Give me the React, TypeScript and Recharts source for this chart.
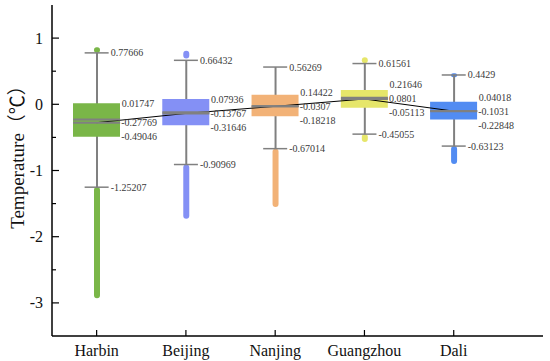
import React from 'react';
import {
  ComposedChart,
  Bar,
  Line,
  Scatter,
  XAxis,
  YAxis,
  Cell,
} from 'recharts';

// box plot summary per city
const cities = ['Harbin', 'Beijing', 'Nanjing', 'Guangzhou', 'Dali'];
const upperWhisker = [0.77666, 0.66432, 0.56269, 0.61561, 0.4429];
const q3 = [0.01747, 0.07936, 0.14422, 0.21646, 0.04018];
const means = [-0.27769, -0.13767, -0.0307, 0.0801, -0.1031];
const medians = [-0.23, -0.12, -0.03, 0.1, -0.1];
const q1 = [-0.49046, -0.31646, -0.18218, -0.05113, -0.22848];
const lowerWhisker = [-1.25207, -0.90969, -0.67014, -0.45055, -0.63123];
// extent of the outlier dots above / below the whiskers
const outlierHigh: ([number, number] | null)[] = [
  [0.78, 0.86],
  [0.69, 0.81],
  null,
  [0.62, 0.71],
  [0.41, 0.47],
];
const outlierLow: [number, number][] = [
  [-2.93, -1.25],
  [-1.73, -0.91],
  [-1.55, -0.67],
  [-0.57, -0.45],
  [-0.9, -0.63],
];
const colors = ['#7ab648', '#8490f5', '#f2b277', '#e6e66a', '#528cf2'];

const CHART_W = 550;
const CHART_H = 361;
const MARGIN = { top: 5, right: 7, bottom: 0, left: 8 };
const X_AXIS_H = 25;
const Y_DOMAIN: [number, number] = [-3.5, 1.5];
const PX_PER_UNIT =
  (CHART_H - MARGIN.top - MARGIN.bottom - X_AXIS_H) / (Y_DOMAIN[1] - Y_DOMAIN[0]);
const LABEL_GAP = 14;
const BOX_W = 47;

const serif = '"Liberation Serif", "Noto Sans CJK SC", serif';
const grey = '#808080';

const rows = cities.map((name, i) => ({
  x: i + 1,
  name,
  hi: upperWhisker[i],
  q3: q3[i],
  mean: means[i],
  med: medians[i],
  q1: q1[i],
  lo: lowerWhisker[i],
  outHi: outlierHigh[i],
  outLo: outlierLow[i],
}));

const valueText = (x: number, y: number, v: number) => (
  <text
    x={x}
    y={y}
    fontSize={10}
    fontFamily={serif}
    fill="#3a3a3a"
    dominantBaseline="central"
  >
    {String(v)}
  </text>
);

const CapShape = (key: 'hi' | 'lo') => (props: any) => {
  const { cx, cy, payload } = props;
  return (
    <g>
      <line x1={cx - 12} x2={cx + 12} y1={cy} y2={cy} stroke={grey} strokeWidth={1.5} />
      {valueText(cx + 14, cy, payload[key])}
    </g>
  );
};

const BoxLine = (props: any) => {
  const { cx, cy } = props;
  return (
    <line
      x1={cx - BOX_W / 2}
      x2={cx + BOX_W / 2}
      y1={cy}
      y2={cy}
      stroke={grey}
      strokeWidth={2}
    />
  );
};

const Q3Label = (props: any) => {
  const { cx, cy, payload } = props;
  const dy = Math.min(0, (payload.q3 - payload.mean) * PX_PER_UNIT - LABEL_GAP);
  return valueText(cx + BOX_W / 2 + 1.5, cy + dy, payload.q3);
};

const MeanLabel = (props: any) => {
  const { cx, cy, payload } = props;
  return valueText(cx + BOX_W / 2 + 1, cy, payload.mean);
};

const Q1Label = (props: any) => {
  const { cx, cy, payload } = props;
  const dy = Math.max(0, LABEL_GAP - (payload.mean - payload.q1) * PX_PER_UNIT);
  return valueText(cx + BOX_W / 2 + 1, cy + dy, payload.q1);
};

const YTick = (props: any) => {
  const { x, y, payload } = props;
  const major = Number.isInteger(payload.value);
  return (
    <g>
      <line x1={x} x2={x + (major ? 7 : 4)} y1={y} y2={y} stroke="#000" strokeWidth={1.2} />
      {major && (
        <text
          x={x - 9}
          y={y}
          textAnchor="end"
          dominantBaseline="central"
          fontSize={16}
          fontFamily={serif}
          fill="#111"
        >
          {payload.value}
        </text>
      )}
    </g>
  );
};

const XTick = (props: any) => {
  const { x, y, payload } = props;
  return (
    <g>
      <line x1={x} x2={x} y1={y} y2={y - 6} stroke="#000" strokeWidth={1.2} />
      <text
        x={x}
        y={y + 14}
        textAnchor="middle"
        dominantBaseline="central"
        fontSize={16}
        fontFamily={serif}
        fill="#111"
      >
        {cities[payload.value - 1]}
      </text>
    </g>
  );
};

const YTitle = (props: any) => {
  const { viewBox } = props;
  const cx = viewBox.x + 9.5;
  const cy = viewBox.y + viewBox.height / 2 - 18;
  return (
    <text
      x={cx}
      y={cy}
      transform={`rotate(-90, ${cx}, ${cy})`}
      textAnchor="middle"
      dominantBaseline="central"
      fontSize={19}
      fontFamily={serif}
      fill="#111"
    >
      Temperature（℃）
    </text>
  );
};

const xProps = {
  dataKey: 'x',
  type: 'number' as const,
  domain: [0.5, 6],
  allowDataOverflow: true,
};

export default function App() {
  return (
    <div style={{ position: 'absolute', left: 0, top: 0, background: '#fff' }}>
      <ComposedChart width={CHART_W} height={CHART_H} data={rows} margin={MARGIN}>
        <XAxis
          {...xProps}
          ticks={[1, 2, 3, 4, 5]}
          interval={0}
          height={X_AXIS_H}
          tickSize={0}
          tickMargin={0}
          tickLine={false}
          tick={<XTick />}
          axisLine={{ stroke: '#000', strokeWidth: 1.5 }}
        />
        <XAxis
          {...xProps}
          xAxisId="top"
          orientation="top"
          height={0}
          tick={false}
          tickLine={false}
          axisLine={{ stroke: '#000', strokeWidth: 1.5 }}
        />
        <XAxis {...xProps} xAxisId="o1" hide />
        <XAxis {...xProps} xAxisId="o2" hide />
        <XAxis {...xProps} xAxisId="w" hide />
        <YAxis
          type="number"
          domain={Y_DOMAIN}
          ticks={[-3, -2.5, -2, -1.5, -1, -0.5, 0, 0.5, 1]}
          interval={0}
          width={44}
          tickSize={0}
          tickMargin={0}
          tickLine={false}
          tick={<YTick />}
          axisLine={{ stroke: '#000', strokeWidth: 1.5 }}
          label={{ content: <YTitle /> }}
          allowDataOverflow
        />
        <YAxis
          yAxisId="right"
          orientation="right"
          type="number"
          domain={Y_DOMAIN}
          width={0}
          tick={false}
          tickLine={false}
          axisLine={{ stroke: '#000', strokeWidth: 1.5 }}
        />

        {/* outlier strips */}
        <Bar
          xAxisId="o1"
          dataKey={(d: any) => d.outLo}
          barSize={6}
          radius={3}
          isAnimationActive={false}
        >
          {rows.map((r, i) => (
            <Cell key={r.name} fill={colors[i]} />
          ))}
        </Bar>
        <Bar
          xAxisId="o2"
          dataKey={(d: any) => d.outHi}
          barSize={6}
          radius={3}
          isAnimationActive={false}
        >
          {rows.map((r, i) => (
            <Cell key={r.name} fill={colors[i]} />
          ))}
        </Bar>

        {/* whiskers */}
        <Bar
          xAxisId="w"
          dataKey={(d: any) => [d.lo, d.hi]}
          barSize={2}
          fill={grey}
          isAnimationActive={false}
        />

        {/* boxes */}
        <Bar
          dataKey={(d: any) => [d.q1, d.q3]}
          barSize={BOX_W}
          isAnimationActive={false}
        >
          {rows.map((r, i) => (
            <Cell key={r.name} fill={colors[i]} />
          ))}
        </Bar>

        <Scatter dataKey="med" shape={BoxLine} isAnimationActive={false} />
        <Scatter dataKey="mean" shape={BoxLine} isAnimationActive={false} />
        <Scatter dataKey="hi" shape={CapShape('hi')} isAnimationActive={false} />
        <Scatter dataKey="lo" shape={CapShape('lo')} isAnimationActive={false} />

        <Line
          type="linear"
          dataKey="mean"
          stroke="#000"
          strokeWidth={1}
          dot={false}
          activeDot={false}
          isAnimationActive={false}
        />

        <Scatter dataKey="q3" shape={Q3Label} isAnimationActive={false} />
        <Scatter dataKey="mean" shape={MeanLabel} isAnimationActive={false} />
        <Scatter dataKey="q1" shape={Q1Label} isAnimationActive={false} />
      </ComposedChart>
    </div>
  );
}
